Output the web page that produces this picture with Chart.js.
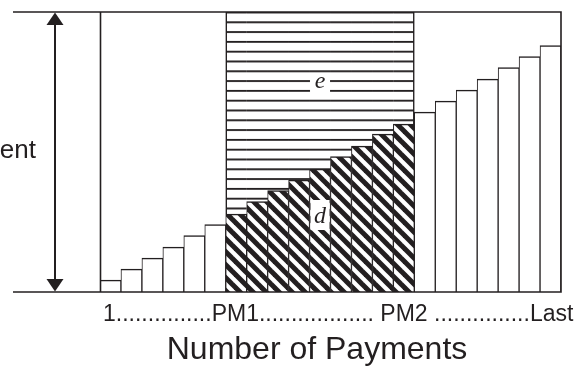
<!DOCTYPE html>
<html>
<head>
<meta charset="utf-8">
<script src="https://cdn.jsdelivr.net/npm/chart.js@4.4.0/dist/chart.umd.min.js"></script>
<style>
  html, body { margin: 0; padding: 0; background: #ffffff; }
  #wrap { width: 582px; height: 369px; }
</style>
</head>
<body>
<div id="wrap"><canvas id="chart" width="582" height="369"></canvas></div>
<script>
// Payment schedule: one bar per payment, heights in payment units
const categories = ['1', '2', '3', '4', '5', '6', '7', '8', '9', '10', '11',
                    '12', '13', '14', '15', '16', '17', '18', '19', '20', '21', '22'];
const earlyPayments  = [12, 23, 34, 45, 56.5, 67.5];
const periodPayments = [78, 90.5, 101.5, 112, 123, 135.5, 146, 158, 168];
const latePayments   = [180, 191, 202, 213, 224.5, 235.5, 246.5];
const paymentCap = 280;

const tickLine = '1...............PM1.................. PM2 ...............Last';
const xTitle = 'Number of Payments';
const yTitle = 'Payment';
const upperRegionLabel = 'e';
const lowerRegionLabel = 'd';

const INK = '#231f20';

// Build per-dataset arrays from the three payment groups
const nEarly = earlyPayments.length, nMid = periodPayments.length, nLate = latePayments.length;
const gap = n => new Array(n).fill(null);
const outerData = [...earlyPayments, ...gap(nMid), ...latePayments];
const periodData = [...gap(nEarly), ...periodPayments, ...gap(nLate)];
const remainderData = [...gap(nEarly), ...periodPayments.map(v => [v, paymentCap]), ...gap(nLate)];

// Fill patterns
function diagonalHatch() {
  const p = 13;
  const c = document.createElement('canvas');
  c.width = p; c.height = p;
  const g = c.getContext('2d');
  g.fillStyle = '#ffffff';
  g.fillRect(0, 0, p, p);
  g.strokeStyle = INK;
  g.lineWidth = 5;
  for (const o of [-p, 0, p]) {
    g.beginPath();
    g.moveTo(o - p, -p);
    g.lineTo(o + 2 * p, 2 * p);
    g.stroke();
  }
  return g.createPattern(c, 'repeat');
}
function horizontalRules() {
  const c = document.createElement('canvas');
  c.width = 10; c.height = 10;
  const g = c.getContext('2d');
  g.fillStyle = '#ffffff';
  g.fillRect(0, 0, 10, 10);
  g.fillStyle = INK;
  g.fillRect(0, 0, 10, 1.9);
  const pat = g.createPattern(c, 'repeat');
  pat.setTransform(new DOMMatrix([1, 0, 0, 0.98, 0, 11.5]));
  return pat;
}

const firstMid = nEarly, lastMid = nEarly + nMid - 1;

const framePlugin = {
  id: 'frame',
  afterDraw(chart) {
    const { ctx, chartArea: a, scales } = chart;
    const x = scales.x, y = scales.y;
    const top = y.getPixelForValue(paymentCap);
    const base = y.getPixelForValue(0);
    const leftEdge = 13;
    ctx.save();
    ctx.strokeStyle = INK;
    ctx.fillStyle = INK;
    ctx.lineWidth = 1.6;
    ctx.lineCap = 'butt';
    // top rule and baseline
    ctx.beginPath();
    ctx.moveTo(leftEdge, top); ctx.lineTo(a.right + 0.8, top);
    ctx.moveTo(leftEdge, base); ctx.lineTo(a.right + 0.8, base);
    // box sides
    ctx.moveTo(a.left + 0.5, top); ctx.lineTo(a.left + 0.5, base);
    ctx.moveTo(a.right, top); ctx.lineTo(a.right, base);
    ctx.stroke();

    // double arrow spanning the payment height
    const ax = 55, head = 13, half = 8.5;
    ctx.lineWidth = 2;
    ctx.beginPath();
    ctx.moveTo(ax, top + head - 1); ctx.lineTo(ax, base - head + 1);
    ctx.stroke();
    ctx.beginPath();
    ctx.moveTo(ax, top + 0.5); ctx.lineTo(ax - half, top + head); ctx.lineTo(ax + half, top + head);
    ctx.closePath(); ctx.fill();
    ctx.beginPath();
    ctx.moveTo(ax, base - 0.5); ctx.lineTo(ax - half, base - head); ctx.lineTo(ax + half, base - head);
    ctx.closePath(); ctx.fill();

    // region labels on white boxes
    const cx = x.getPixelForValue(10);
    ctx.font = 'italic 24px "Liberation Serif", "DejaVu Serif", serif';
    ctx.textAlign = 'center';
    ctx.textBaseline = 'alphabetic';
    ctx.fillStyle = '#ffffff';
    ctx.fillRect(cx - 10, 76, 20, 16);
    ctx.fillRect(cx - 9.5, 200, 19, 30);
    ctx.fillStyle = INK;
    ctx.fillText(upperRegionLabel, cx, 88);
    ctx.fillText(lowerRegionLabel, cx, 223);

    // axis texts
    ctx.fillStyle = '#231f20';
    ctx.font = '23px "Liberation Sans", Arial, sans-serif';
    ctx.textAlign = 'left';
    ctx.fillText(tickLine, 103, 321);
    ctx.font = '32px "Liberation Sans", Arial, sans-serif';
    ctx.textAlign = 'center';
    ctx.fillText(xTitle, 317, 359);
    ctx.font = '26px "Liberation Sans", Arial, sans-serif';
    ctx.textAlign = 'right';
    ctx.fillText(yTitle, 36, 158);
    ctx.restore();
  }
};

const common = {
  grouped: false,
  categoryPercentage: 1,
  barPercentage: 1,
  borderColor: INK,
  borderSkipped: false
};

new Chart(document.getElementById('chart'), {
  type: 'bar',
  data: {
    labels: categories,
    datasets: [
      Object.assign({}, common, {
        label: 'payment',
        data: outerData,
        backgroundColor: '#ffffff',
        borderWidth: { top: 1.6, left: 1, right: 1, bottom: 0 }
      }),
      Object.assign({}, common, {
        label: lowerRegionLabel,
        data: periodData,
        backgroundColor: diagonalHatch(),
        borderWidth: { top: 1.6, left: 1, right: 1, bottom: 0 }
      }),
      Object.assign({}, common, {
        label: upperRegionLabel,
        data: remainderData,
        backgroundColor: horizontalRules(),
        borderWidth: ctx => ({
          top: 0, bottom: 0,
          left: ctx.dataIndex === firstMid ? 1.6 : 0,
          right: ctx.dataIndex === lastMid ? 1.6 : 0
        })
      })
    ]
  },
  options: {
    responsive: false,
    animation: false,
    devicePixelRatio: 1,
    layout: { padding: { left: 100, right: 21, top: 12, bottom: 77 } },
    scales: {
      x: { display: false, offset: true },
      y: { display: false, min: 0, max: paymentCap }
    },
    plugins: { legend: { display: false }, tooltip: { enabled: false } }
  },
  plugins: [framePlugin]
});
</script>
</body>
</html>
